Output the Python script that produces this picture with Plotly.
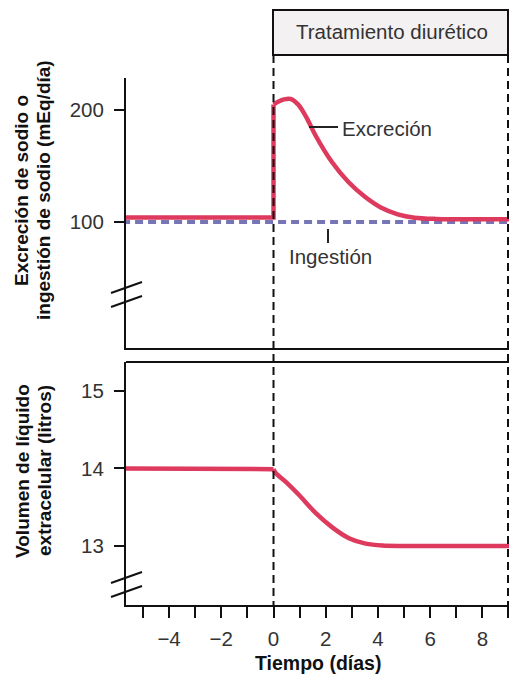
import plotly.graph_objects as go

# ---------------- data ----------------
# sodium excretion (mEq/day): baseline before treatment, then the response after day 0
excr_pre_days = [-5.8, 0.0, 0.0]
excr_pre_vals = [104, 104, 205]
excr_post_days = [0.0, 0.14, 0.4, 0.65, 0.96, 1.28, 1.6, 2.23, 2.86, 3.5, 4.13, 4.76, 5.4, 6.2, 7.0, 8.0, 9.1]
excr_post_vals = [205, 207, 209.5, 210, 204.5, 192.6, 177.7, 153.8, 136, 122.6, 112.8, 106.9, 103.9, 102.8, 102.5, 102.5, 102.5]

# sodium intake (mEq/day)
ing_days = [-5.8, 9.1]
ing_vals = [100, 100]

# extracellular fluid volume (litres)
vol_pre_days = [-5.8, -0.3, 0.0]
vol_pre_vals = [14.0, 14.0, 13.99]
vol_post_days = [0.0, 0.08, 0.46, 0.97, 1.6, 2.25, 2.89, 3.53, 4.17, 5.0, 9.1]
vol_post_vals = [13.99, 13.94, 13.83, 13.66, 13.43, 13.24, 13.1, 13.03, 13.005, 13.0, 13.0]

x_ticks = list(range(-5, 10))
x_ticktext = ["−4" if v == -4 else "−2" if v == -2 else str(v) if v % 2 == 0 else "" for v in x_ticks]
y1_ticks = [100, 200]
y2_ticks = [13, 14, 15]

# ---------------- geometry helpers (pixels -> paper) ----------------
W, H = 510, 674
L, R = 126, 509


def px(x):
    return (x - L) / (R - L)


def py(y):
    return (H - y) / H


RED = "#dd3a5e"
BLUE = "#7676b6"
TXT = "#333333"
FONT = "Liberation Sans, Arial, sans-serif"
FS = 20.5

fig = go.Figure()

fig.add_trace(go.Scatter(x=ing_days, y=ing_vals, mode="lines", xaxis="x2", yaxis="y",
                         line=dict(color=BLUE, width=4, dash="8px,5px"), hoverinfo="skip"))
fig.add_trace(go.Scatter(x=excr_pre_days, y=excr_pre_vals, mode="lines", xaxis="x2", yaxis="y",
                         line=dict(color=RED, width=4.5), hoverinfo="skip"))
fig.add_trace(go.Scatter(x=excr_post_days, y=excr_post_vals, mode="lines", xaxis="x2", yaxis="y",
                         line=dict(color=RED, width=4.5, shape="spline", smoothing=0.8), hoverinfo="skip"))
fig.add_trace(go.Scatter(x=vol_pre_days, y=vol_pre_vals, mode="lines", xaxis="x", yaxis="y2",
                         line=dict(color=RED, width=4.5), hoverinfo="skip"))
fig.add_trace(go.Scatter(x=vol_post_days, y=vol_post_vals, mode="lines", xaxis="x", yaxis="y2",
                         line=dict(color=RED, width=4.5, shape="spline", smoothing=0.8), hoverinfo="skip"))

xr = [-5.65, 9.02]
axis_common = dict(automargin=False, showgrid=False, zeroline=False,
                   tickfont=dict(family=FONT, size=FS, color=TXT),
                   linecolor="#111", linewidth=2, tickcolor="#111", tickwidth=2)

fig.update_layout(
    width=W, height=H,
    margin=dict(l=L, r=W - R, t=0, b=0),
    paper_bgcolor="white", plot_bgcolor="white",
    showlegend=False,
    xaxis=dict(axis_common, domain=[0, 1], anchor="y2", range=xr, showline=True,
               tickmode="array", tickvals=x_ticks, ticktext=x_ticktext,
               ticks="outside", ticklen=11, ticklabelstandoff=3),
    xaxis2=dict(axis_common, domain=[0, 1], anchor="y", range=xr, matches="x", showline=True,
                showticklabels=False, ticks=""),
    yaxis=dict(axis_common, domain=[py(348), py(78)], anchor="x2", range=[-12.5, 228.6],
               showline=True, tickmode="array", tickvals=y1_ticks,
               ticks="outside", ticklen=10, ticklabelstandoff=6),
    yaxis2=dict(axis_common, domain=[py(605), py(362)], anchor="x", range=[12.24, 15.37],
                showline=True, tickmode="array", tickvals=y2_ticks,
                ticks="outside", ticklen=10, ticklabelstandoff=6),
)

shapes = []
# top border of lower panel
shapes.append(dict(type="line", xref="paper", yref="paper", x0=0, x1=px(R), y0=py(362), y1=py(362),
                   line=dict(color="#111", width=2)))
# right dashed line
shapes.append(dict(type="line", xref="paper", yref="paper", x0=px(R - 1), x1=px(R - 1), y0=py(55), y1=py(605),
                   line=dict(color="#111", width=2, dash="8px,5px")))
# treatment start dashed line (day 0)
shapes.append(dict(type="line", xref="x", yref="paper", x0=0, x1=0, y0=py(55), y1=py(605),
                   line=dict(color="#111", width=2, dash="8px,5px")))
# treatment box
shapes.append(dict(type="rect", xref="paper", yref="paper", x0=px(273), x1=px(R - 1), y0=py(55), y1=py(10),
                   line=dict(color="#111", width=2), fillcolor="#f3f1f1", layer="below"))
# axis break marks
for (x0, y0, x1, y1) in [(111, 293, 142, 282), (111, 307, 142, 296),
                         (111, 583, 142, 572), (111, 597, 142, 586)]:
    shapes.append(dict(type="line", xref="paper", yref="paper", x0=px(x0), x1=px(x1), y0=py(y0), y1=py(y1),
                       line=dict(color="#111", width=2)))
# leader lines
shapes.append(dict(type="line", xref="paper", yref="paper", x0=px(309), x1=px(338), y0=py(127), y1=py(127),
                   line=dict(color="#222", width=2)))
shapes.append(dict(type="line", xref="paper", yref="paper", x0=px(328), x1=px(328), y0=py(229), y1=py(243),
                   line=dict(color="#222", width=2)))
fig.update_layout(shapes=shapes)

ann = []
ann.append(dict(text="Tratamiento diurético", xref="paper", yref="paper", x=px(392), y=py(32),
                showarrow=False, font=dict(family=FONT, size=FS, color=TXT), xanchor="center", yanchor="middle"))
ann.append(dict(text="Excreción", xref="paper", yref="paper", x=px(340), y=py(128),
                showarrow=False, font=dict(family=FONT, size=FS, color=TXT), xanchor="left", yanchor="middle"))
ann.append(dict(text="Ingestión", xref="paper", yref="paper", x=px(330), y=py(256),
                showarrow=False, font=dict(family=FONT, size=FS, color=TXT), xanchor="center", yanchor="middle"))
ann.append(dict(text="<b>Tiempo (días)</b>", xref="paper", yref="paper", x=px(318), y=py(663),
                showarrow=False, font=dict(family=FONT, size=19.5, color="#111"), xanchor="center", yanchor="middle"))
for txt, xx, yy in [("Excreción de sodio o", 22, 190), ("ingestión de sodio (mEq/día)", 44, 190),
                    ("Volumen de líquido", 22, 471), ("extracelular (litros)", 44, 471)]:
    ann.append(dict(text="<b>" + txt + "</b>", xref="paper", yref="paper", x=px(xx), y=py(yy),
                    showarrow=False, textangle=-90, font=dict(family=FONT, size=19, color="#111"),
                    xanchor="center", yanchor="middle"))
fig.update_layout(annotations=ann)

fig.write_html("out.html", config={"displayModeBar": False},
               post_script="document.body.style.margin='0';document.body.style.overflow='hidden';")
